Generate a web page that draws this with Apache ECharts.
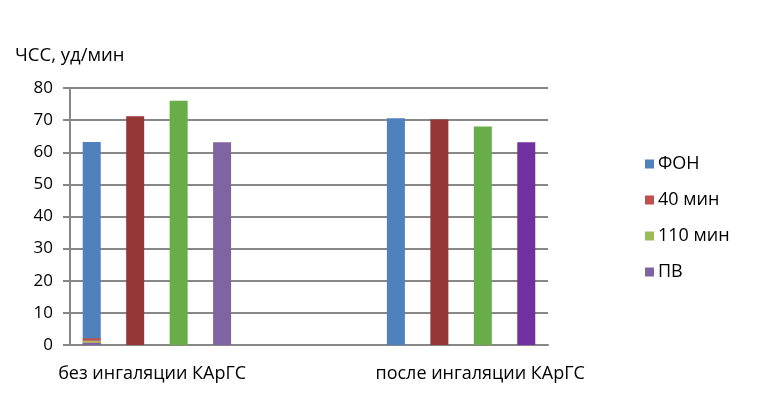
<!DOCTYPE html>
<html><head><meta charset="utf-8">
<script src="https://cdn.jsdelivr.net/npm/echarts@6/dist/echarts.min.js"></script>
<style>html,body{margin:0;padding:0;background:#fff}#c{width:758px;height:414px}</style>
</head><body><div id="c"></div>
<script>
// ---- data ----
var groups = ['без ингаляции КАрГС', 'после ингаляции КАрГС'];
var seriesNames = ['ФОН', '40 мин', '110 мин', 'ПВ'];
var fon = [63.2, 70.6];
var min40 = [71.2, 70.2];
var min110 = [76, 68];
var pv = [63.1, 63.1];
// small coloured segments at the base of the first bar
var baseSegs = [0.7, 0.7, 0.7];
var yTicks = [0, 10, 20, 30, 40, 50, 60, 70, 80];

// ---- layout (slots on the category axis) ----
var NSLOT = 11;
var groupSlots = [[0, 1, 2, 3], [7, 8, 9, 10]];
var groupLabelPos = [1.89, 9.44];
var legendColors = ['#4F81BD', '#C0504D', '#9BBB59', '#8064A2'];
var barColors = [['#4F81BD', '#4F81BD'], ['#953735', '#953735'], ['#68AD47', '#68AD47'], ['#8064A2', '#7030A0']];
var segColors = ['#8064A2', '#C8B45A', '#C0504D'];
var FONT = 'Open Sans';

var values = [fon, min40, min110, pv];
function slotData(si) {
  var arr = [];
  for (var i = 0; i < NSLOT; i++) arr.push(null);
  for (var g = 0; g < groups.length; g++) {
    arr[groupSlots[g][si]] = { value: values[si][g], itemStyle: { color: barColors[si][g] } };
  }
  return arr;
}
var slots = [];
for (var i = 0; i < NSLOT; i++) slots.push('s' + i);

var series = [];
for (var s = 0; s < seriesNames.length; s++) {
  series.push({
    name: seriesNames[s], type: 'bar', barWidth: 18, barGap: '-100%',
    itemStyle: { color: legendColors[s] },
    data: slotData(s)
  });
}
for (var k = 0; k < baseSegs.length; k++) {
  var d = [];
  for (var i = 0; i < NSLOT; i++) d.push(null);
  d[groupSlots[0][0]] = baseSegs[k];
  series.push({
    name: 'seg' + k, type: 'bar', barWidth: 18, barGap: '-100%', stack: 'base',
    itemStyle: { color: segColors[k] }, data: d, z: 3
  });
}

var chart = echarts.init(document.getElementById('c'));
chart.setOption({
  animation: false,
  backgroundColor: '#fff',
  textStyle: { fontFamily: FONT },
  title: { text: 'ЧСС, уд/мин', left: 10, top: 41, textStyle: { fontFamily: FONT, fontSize: 18.5, fontWeight: 'normal', color: '#000' } },
  legend: {
    data: seriesNames, orient: 'vertical', left: 640, top: 150, itemGap: 18,
    itemWidth: 9, itemHeight: 9, icon: 'rect',
    textStyle: { fontFamily: FONT, fontSize: 18, color: '#000', padding: [0, 0, 0, -1] }
  },
  grid: { left: 70, right: 210, top: 88, bottom: 69, containLabel: false },
  xAxis: [
    { type: 'category', data: slots, boundaryGap: true,
      axisLine: { lineStyle: { color: '#878787', width: 2 } },
      axisTick: { show: false }, axisLabel: { show: false } },
    { type: 'value', min: 0, max: NSLOT, position: 'bottom',
      axisLine: { show: false }, axisTick: { show: false }, splitLine: { show: false },
      axisLabel: { show: true, customValues: groupLabelPos, margin: 20,
        fontFamily: FONT, fontSize: 18, color: '#000',
        formatter: function (v) { var idx = groupLabelPos.indexOf(v); return idx >= 0 ? groups[idx] : ''; } } }
  ],
  yAxis: {
    type: 'value', min: yTicks[0], max: yTicks[yTicks.length - 1], interval: yTicks[1] - yTicks[0],
    axisLine: { show: true, lineStyle: { color: '#878787', width: 2 } },
    axisTick: { show: true, length: 7, lineStyle: { color: '#878787', width: 2 } },
    axisLabel: { margin: 17, fontFamily: FONT, fontSize: 17, color: '#000' },
    splitLine: { lineStyle: { color: '#878787', width: 2 } }
  },
  series: series
});
</script></body></html>
